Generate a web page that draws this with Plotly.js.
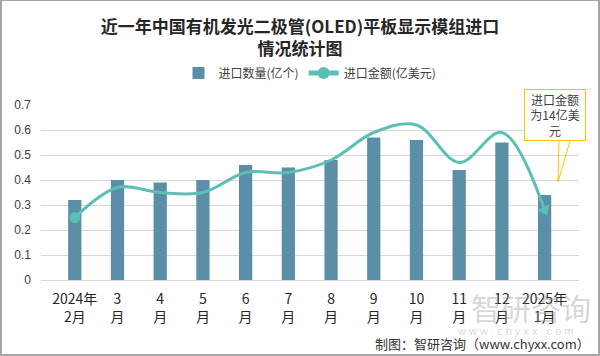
<!DOCTYPE html>
<html>
<head>
<meta charset="utf-8">
<script src="https://cdn.plot.ly/plotly-3.0.1.min.js"></script>
<style>
html,body{margin:0;padding:0;background:#fff;}
#wrap{position:relative;width:600px;height:356px;}
#chart{width:600px;height:356px;}
#frame{position:absolute;left:0;top:0;width:600px;height:356px;box-sizing:border-box;border-style:solid;border-color:#a6a6a6;border-width:1px 2px 2px 2px;pointer-events:none;}
</style>
</head>
<body>
<div id="wrap"><div id="chart"></div><div id="frame"></div></div>
<script>
const categories = ['2024年<br>2月','3<br>月','4<br>月','5<br>月','6<br>月','7<br>月','8<br>月','9<br>月','10<br>月','11<br>月','12<br>月','2025年<br>1月'];
const quantity = [0.32, 0.40, 0.39, 0.40, 0.46, 0.45, 0.48, 0.57, 0.56, 0.44, 0.55, 0.34];
const amount = [0.25, 0.37, 0.35, 0.35, 0.43, 0.43, 0.48, 0.59, 0.62, 0.47, 0.59, 0.28];
const seriesNames = ['进口数量(亿个)', '进口金额(亿美元)'];
const titleText = '近一年中国有机发光二极管(OLED)平板显示模组进口<br>情况统计图';
const calloutText = '进口金额<br>为14亿美<br>元';

const n = amount.length;
const FONT = '"Noto Sans CJK SC", "Liberation Sans", sans-serif';
const LINE_COLOR = '#5CBFB5';

// pixel -> paper helpers (plot area: x 41..579, y 105..280)
const L = 41, R = 579, T = 105, B = 280;
const px = x => (x - L) / (R - L);
const py = y => (B - y) / (B - T);

const traces = [
  {
    type: 'bar', x: categories, y: quantity, name: seriesNames[0],
    marker: {color: '#5B8FA7'}, hoverinfo: 'skip'
  },
  {
    type: 'scatter', mode: 'lines+markers', x: categories, y: amount, name: seriesNames[1],
    line: {color: LINE_COLOR, width: 3, shape: 'spline', smoothing: 1},
    marker: {color: LINE_COLOR, opacity: 1, symbol: 'circle', size: amount.map((v,i)=> i===0 ? 11 : 0), line: {width: 0}},
    hoverinfo: 'skip'
  },
  {
    type: 'scatter', mode: 'markers', x: [categories[n-1]], y: [amount[n-1]],
    showlegend: false, hoverinfo: 'skip',
    marker: {color: LINE_COLOR, opacity: 1, symbol: 'triangle-up', size: 12, angle: 152, line: {width: 0}}
  }
];

const layout = {
  width: 600, height: 356,
  margin: {l: L, r: 600 - R, t: T, b: 356 - B, pad: 0},
  paper_bgcolor: '#fff', plot_bgcolor: '#fff',
  font: {family: FONT, color: '#333'},
  title: {
    text: titleText, x: 0.5, xanchor: 'center', y: 1 - 33/356, yanchor: 'middle',
    font: {family: FONT, size: 17, color: '#262626', weight: 'bold'}
  },
  showlegend: true,
  legend: {
    orientation: 'h', x: 0.5, xanchor: 'center', y: py(73), yanchor: 'middle',
    font: {family: FONT, size: 12, color: '#404040'}, traceorder: 'normal',
    itemwidth: 30, itemsizing: 'constant'
  },
  bargap: 0.69,
  xaxis: {
    type: 'category', showgrid: false, zeroline: false, showline: false, ticks: '',
    tickfont: {family: FONT, size: 14, color: '#262626'}, tickangle: 0, ticklabelstandoff: 9
  },
  yaxis: {
    range: [0, 0.7], dtick: 0.1, showgrid: true, gridcolor: '#d9d9d9', gridwidth: 1,
    zeroline: true, zerolinecolor: '#d9d9d9', zerolinewidth: 1, showline: false, ticks: '',
    tickfont: {family: '"Liberation Sans", sans-serif', size: 12, color: '#404040'}, ticklabelstandoff: 9
  },
  shapes: [
    {type: 'path', xref: 'paper', yref: 'paper',
     path: `M ${px(559)} ${py(141)} L ${px(558)} ${py(182)} L ${px(570)} ${py(141)}`,
     line: {color: '#FFC000', width: 1}, layer: 'above'}
  ],
  annotations: [
    {xref: 'paper', yref: 'paper', x: px(554.5), y: py(114.5), xanchor: 'center', yanchor: 'middle',
     text: calloutText, showarrow: false, align: 'center',
     font: {family: FONT, size: 12, color: '#404040'},
     bgcolor: '#fff', bordercolor: '#FFC000', borderwidth: 1, borderpad: 1, width: 58, height: 48},
    {xref: 'paper', yref: 'paper', x: px(531), y: py(307), xanchor: 'center', yanchor: 'middle',
     text: '智研咨询', showarrow: false,
     font: {family: FONT, size: 30, color: 'rgba(150,150,150,0.4)'}},
    {xref: 'paper', yref: 'paper', x: px(515), y: py(331), xanchor: 'center', yanchor: 'middle',
     text: 'w w w . c h y x x . c o m', showarrow: false,
     font: {family: '"Liberation Sans", sans-serif', size: 11, color: 'rgba(150,150,150,0.4)'}},
    {xref: 'paper', yref: 'paper', x: px(592), y: py(343), xanchor: 'right', yanchor: 'middle',
     text: '制图：智研咨询（www.chyxx.com）', showarrow: false,
     font: {family: FONT, size: 13, color: '#333'}}
  ]
};

Plotly.newPlot('chart', traces, layout, {displayModeBar: false, staticPlot: true});
</script>
</body>
</html>
